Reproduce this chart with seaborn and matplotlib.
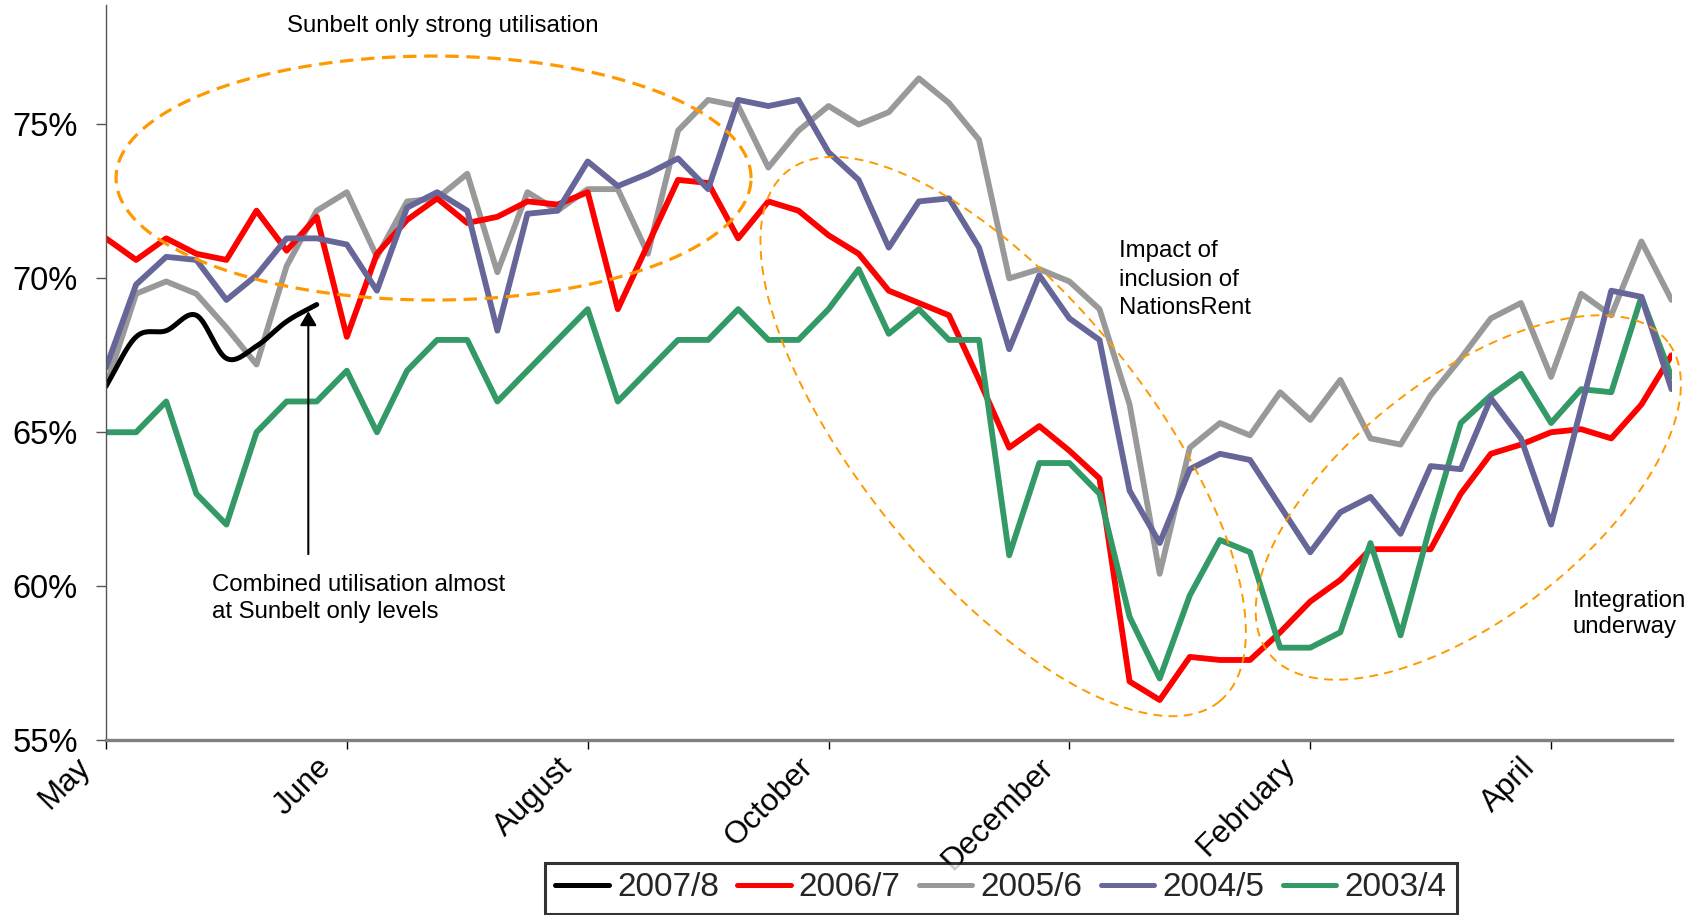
import numpy as np
import pandas as pd
import matplotlib
matplotlib.use("Agg")
import matplotlib.pyplot as plt
import matplotlib.transforms as mtransforms
from matplotlib.lines import Line2D
import seaborn as sns

# ---- data: weekly fleet utilisation (%) from May to the following April ----
weeks = list(range(53))
month_ticks = [0, 8, 16, 24, 32, 40, 48]
month_labels = ["May", "June", "August", "October", "December", "February", "April"]
y_ticks = [55, 60, 65, 70, 75]
y_tick_labels = ["55%", "60%", "65%", "70%", "75%"]

util_2007_8 = [66.5, 68.1, 68.3, 68.8, 67.4, 67.8, 68.6, 69.15]

util_2006_7 = [71.3, 70.6, 71.3, 70.8, 70.6, 72.2, 70.9, 72.0, 68.1, 70.8,
               71.9, 72.6, 71.8, 72.0, 72.5, 72.4, 72.8, 69.0, 71.1, 73.2,
               73.1, 71.3, 72.5, 72.2, 71.4, 70.8, 69.6, 69.2, 68.8, 66.7,
               64.5, 65.2, 64.4, 63.5, 56.9, 56.3, 57.7, 57.6, 57.6, 58.5,
               59.5, 60.2, 61.2, 61.2, 61.2, 63.0, 64.3, 64.6, 65.0, 65.1,
               64.8, 65.9, 67.5]

util_2005_6 = [66.5, 69.5, 69.9, 69.5, 68.4, 67.2, 70.4, 72.2, 72.8, 70.7,
               72.5, 72.6, 73.4, 70.2, 72.8, 72.2, 72.9, 72.9, 70.8, 74.8,
               75.8, 75.6, 73.6, 74.8, 75.6, 75.0, 75.4, 76.5, 75.7, 74.5,
               70.0, 70.3, 69.9, 69.0, 65.9, 60.4, 64.5, 65.3, 64.9, 66.3,
               65.4, 66.7, 64.8, 64.6, 66.2, 67.4, 68.7, 69.2, 66.8, 69.5,
               68.8, 71.2, 69.3]

util_2004_5 = [67.1, 69.8, 70.7, 70.6, 69.3, 70.1, 71.3, 71.3, 71.1, 69.6,
               72.3, 72.8, 72.2, 68.3, 72.1, 72.2, 73.8, 73.0, 73.4, 73.9,
               72.9, 75.8, 75.6, 75.8, 74.1, 73.2, 71.0, 72.5, 72.6, 71.0,
               67.7, 70.1, 68.7, 68.0, 63.1, 61.4, 63.8, 64.3, 64.1, 62.6,
               61.1, 62.4, 62.9, 61.7, 63.9, 63.8, 66.1, 64.8, 62.0, 65.8,
               69.6, 69.4, 66.4]

util_2003_4 = [65.0, 65.0, 66.0, 63.0, 62.0, 65.0, 66.0, 66.0, 67.0, 65.0,
               67.0, 68.0, 68.0, 66.0, 67.0, 68.0, 69.0, 66.0, 67.0, 68.0,
               68.0, 69.0, 68.0, 68.0, 69.0, 70.3, 68.2, 69.0, 68.0, 68.0,
               61.0, 64.0, 64.0, 63.0, 59.0, 57.0, 59.7, 61.5, 61.1, 58.0,
               58.0, 58.5, 61.4, 58.4, 62.0, 65.3, 66.2, 66.9, 65.3, 66.4,
               66.3, 69.4, 66.8]

season_names = ["2007/8", "2006/7", "2005/6", "2004/5", "2003/4"]
season_colors = {"2007/8": "#000000", "2006/7": "#FF0000", "2005/6": "#999999",
                 "2004/5": "#666699", "2003/4": "#339966"}

# ---- style ----
sns.set_theme(style="ticks")
plt.rcParams["font.family"] = ["Liberation Sans", "DejaVu Sans"]

W, H = 1702, 915
fig = plt.figure(figsize=(W / 100, H / 100), dpi=100)
fig.patch.set_facecolor("white")
ax = fig.add_axes([106 / W, 1 - 740 / H, (1671.5 - 106) / W, (740 - 5.4) / H])
ax.set_facecolor("white")

# ---- weekly series ----
full_year = {"2006/7": util_2006_7, "2005/6": util_2005_6,
             "2004/5": util_2004_5, "2003/4": util_2003_4}
long = pd.concat(
    [pd.DataFrame({"week": weeks, "util": vals, "season": name})
     for name, vals in full_year.items()],
    ignore_index=True,
)
draw_order = ["2005/6", "2006/7", "2003/4", "2004/5"]
sns.lineplot(data=long, x="week", y="util", hue="season", hue_order=draw_order,
             palette=season_colors, linewidth=4.2, estimator=None, sort=False,
             legend=False, ax=ax)
for ln in ax.lines:
    ln.set_solid_joinstyle("round")
    ln.set_solid_capstyle("round")


# current season is drawn as a smoothed line through the weekly values
def catmull_rom(x, y, n=20):
    x = np.asarray(x, float)
    y = np.asarray(y, float)
    px = np.concatenate([[2 * x[0] - x[1]], x, [2 * x[-1] - x[-2]]])
    py = np.concatenate([[2 * y[0] - y[1]], y, [2 * y[-1] - y[-2]]])
    t = np.linspace(0, 1, n, endpoint=False)
    xs, ys = [], []
    for i in range(1, len(px) - 2):
        for arr, out in ((px, xs), (py, ys)):
            p0, p1, p2, p3 = arr[i - 1], arr[i], arr[i + 1], arr[i + 2]
            out.extend(0.5 * (2 * p1 + (-p0 + p2) * t
                              + (2 * p0 - 5 * p1 + 4 * p2 - p3) * t ** 2
                              + (-p0 + 3 * p1 - 3 * p2 + p3) * t ** 3))
    xs.append(x[-1])
    ys.append(y[-1])
    return np.array(xs), np.array(ys)


sx, sy = catmull_rom(weeks[:len(util_2007_8)], util_2007_8)
sns.lineplot(x=sx, y=sy, color=season_colors["2007/8"], linewidth=3.6,
             estimator=None, sort=False, ax=ax)
ax.lines[-1].set_solid_capstyle("round")

# ---- axes ----
ax.set_xlim(0, 52)
ax.set_ylim(55, 78.87)
ax.set_xlabel("")
ax.set_ylabel("")
ax.set_yticks(y_ticks)
ax.set_yticklabels(y_tick_labels, fontsize=23.5)
ax.set_xticks(month_ticks)
ax.set_xticklabels(month_labels, fontsize=22.5, rotation=45, ha="right",
                   va="center", rotation_mode="anchor")
ax.tick_params(axis="y", direction="out", length=7.2, width=1.0,
               color="#555555", pad=13, labelcolor="black")
ax.tick_params(axis="x", direction="out", length=6.5, width=1.0,
               color="black", pad=10, labelcolor="black")
shift = mtransforms.ScaledTranslation(-20 / 100, 0, fig.dpi_scale_trans)
for lab in ax.get_xticklabels():
    lab.set_transform(lab.get_transform() + shift)

for side in ("top", "right"):
    ax.spines[side].set_visible(False)
ax.spines["left"].set_color("#555555")
ax.spines["left"].set_linewidth(1.0)
ax.spines["bottom"].set_color("#808080")
ax.spines["bottom"].set_linewidth(2.4)
ax.grid(False)


# ---- dashed highlight ellipses (sizes in pixels, centre in data units) ----
def draw_ellipse(cx, cy, a_px, b_px, angle_deg, **kw):
    t = np.linspace(0, 2 * np.pi, 400)
    phi = np.deg2rad(angle_deg)
    c = ax.transData.transform((cx, cy))
    ex = c[0] + a_px * np.cos(t) * np.cos(phi) - b_px * np.sin(t) * np.sin(phi)
    ey = c[1] + a_px * np.cos(t) * np.sin(phi) + b_px * np.sin(t) * np.cos(phi)
    pts = ax.transData.inverted().transform(np.column_stack([ex, ey]))
    ax.plot(pts[:, 0], pts[:, 1], color="#FF9900", clip_on=False, **kw)


draw_ellipse(10.88, 73.26, 317.5, 122, 0, linewidth=2.3, dashes=(4.2, 2.4))
draw_ellipse(29.80, 64.86, 342, 142, -50.75, linewidth=1.4, dashes=(4.6, 3.2))
draw_ellipse(45.25, 62.88, 253, 120, 38, linewidth=1.4, dashes=(4.6, 3.2))

# ---- arrow to the latest week ----
ax.annotate("", xy=(6.72, 68.93), xytext=(6.72, 61.04),
            arrowprops=dict(arrowstyle="-|>,head_length=0.85,head_width=0.5",
                            color="black", lw=1.5, shrinkA=0, shrinkB=0,
                            mutation_scale=10))

# ---- annotations ----
def note(x_px, y_px, s):
    fig.text(x_px / W, 1 - y_px / H, s, fontsize=17.3, color="black",
             ha="left", va="baseline")


note(287, 31.7, "Sunbelt only strong utilisation")
note(1119.3, 256.7, "Impact of")
note(1119.3, 285.7, "inclusion of")
note(1119.3, 314.0, "NationsRent")
note(211.7, 590.7, "Combined utilisation almost")
note(211.7, 618.3, "at Sunbelt only levels")
note(1573, 606.7, "Integration")
note(1573, 633.3, "underway")

# ---- legend ----
handles = [Line2D([0], [0], color=season_colors[n], linewidth=3.6,
                  solid_capstyle="round") for n in season_names]
leg = fig.legend(handles, season_names, loc="center",
                 bbox_to_anchor=(1001 / W, 1 - 888 / H), ncol=5,
                 frameon=True, fancybox=False, fontsize=24,
                 handlelength=1.6, handletextpad=0.25, columnspacing=0.55,
                 borderpad=0.3, borderaxespad=0)
leg.get_frame().set_edgecolor("black")
leg.get_frame().set_linewidth(2.2)

fig.savefig("out.png", dpi=100, facecolor="white")
